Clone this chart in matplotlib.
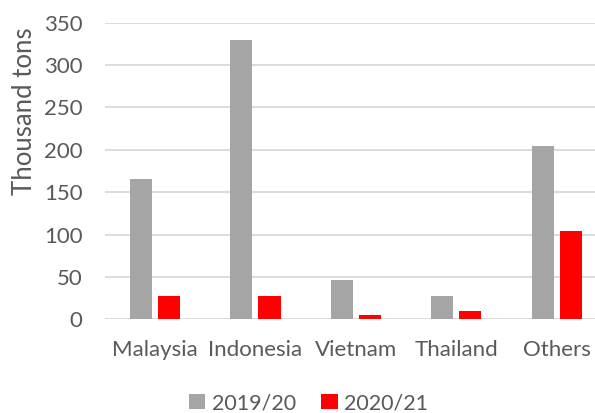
import matplotlib
matplotlib.use("Agg")
import matplotlib.pyplot as plt
import numpy as np

countries = ["Malaysia", "Indonesia", "Vietnam", "Thailand", "Others"]
season_labels = ["2019/20", "2020/21"]
vals_1920 = [165, 329, 46, 28, 205]
vals_2021 = [28, 28, 5, 10, 104]

plt.rcParams["font.family"] = ["Lato", "DejaVu Sans"]
TXT = "#595959"

fig = plt.figure(figsize=(5.95, 4.13), dpi=100)
ax = fig.add_axes([104.75 / 595, 93.7 / 413, 502.25 / 595, 296.6 / 413])

x = np.arange(len(countries))
w = 0.22
ax.bar(x - 0.14, vals_1920, w, color="#A5A5A5", label=season_labels[0], zorder=3)
ax.bar(x + 0.14, vals_2021, w, color="#FF0000", label=season_labels[1], zorder=3)

ax.set_xlim(-0.5, 4.5)
ax.set_ylim(0, 350)
ax.set_yticks(range(0, 351, 50))
ax.set_xticks(x)
ax.set_xticklabels(countries)
ax.tick_params(axis="y", length=0, pad=16, labelsize=16, labelcolor=TXT)
ax.tick_params(axis="x", length=0, pad=15, labelsize=16, labelcolor=TXT)
ax.grid(axis="y", color="#D9D9D9", linewidth=1.3, zorder=0)
for s in ax.spines.values():
    s.set_visible(False)

fig.text(25 / 595, 1 - 111 / 413, "Thousand tons", rotation=90, ha="center", va="center",
         fontsize=18.5, color=TXT)

fig.legend(loc="center", bbox_to_anchor=(308.5 / 595, 1 - 403 / 413), ncol=2, frameon=False,
           fontsize=15.5, labelcolor=TXT, handlelength=0.75, handleheight=0.75,
           handletextpad=0.3, columnspacing=1.2)

fig.savefig("out.png", dpi=100)
